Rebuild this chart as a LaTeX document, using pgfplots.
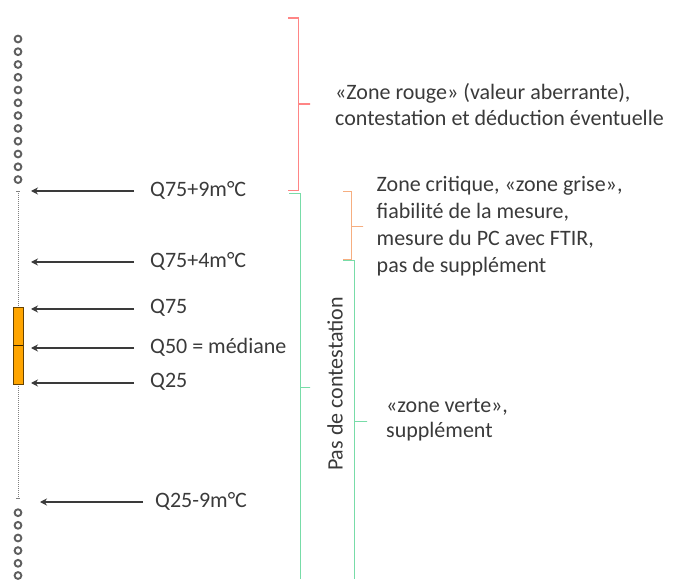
\documentclass[border=0pt]{standalone}
\usepackage{pgfplots}
\pgfplotsset{compat=1.18}
\usepackage{fontspec}
\setmainfont{Carlito}
\usetikzlibrary{arrows.meta}
\definecolor{txt}{HTML}{3A3A3A}
\definecolor{redb}{HTML}{FF8585}
\definecolor{orab}{HTML}{F6AE80}
\definecolor{greb}{HTML}{78DCA8}
\definecolor{boxo}{HTML}{FFA500}
\definecolor{circ}{HTML}{5E5E5E}
\tikzset{lab/.style={font=\fontsize{22}{26}\selectfont, text=txt, inner sep=0pt}}
\begin{document}
\begin{tikzpicture}
\begin{axis}[x=1pt, y=1pt, y dir=reverse, xmin=0, xmax=675, ymin=0, ymax=579,
  hide axis, clip=false, scale only axis]
\addplot[draw=none, forget plot] coordinates {(0,0) (675,579)};
% outliers
\addplot[only marks, mark=o, mark size=3.4pt, mark options={draw=circ, line width=1.9pt}] coordinates {
(18,39) (18,51.7) (18,64.5) (18,77.3) (18,90) (18,102.8) (18,115.6) (18,128.4) (18,141.2) (18,154) (18,166.8) (18,179.6)
(18,512.7) (18,525.3) (18,538) (18,550.6) (18,563.3) (18,575.5)};
% whiskers
\addplot[gray, densely dotted, line width=1pt] coordinates {(18,191) (18,308)};
\addplot[gray, densely dotted, line width=1pt] coordinates {(18,384) (18,498)};
\addplot[gray, line width=0.8pt] coordinates {(16,191) (20,191)};
\addplot[gray, line width=0.8pt] coordinates {(16,498) (20,498)};
% box
\addplot[fill=boxo, draw=black!60!boxo, line width=0.9pt] coordinates {(13.3,307.7) (23.3,307.7) (23.3,384.3) (13.3,384.3) (13.3,307.7)};
\addplot[black!80!boxo, line width=1.5pt] coordinates {(13.3,345.7) (23.3,345.7)};
% arrows
\addplot[txt, line width=1.6pt, -{Stealth[length=7pt,width=7pt]}] coordinates {(134,191) (31,191)};
\addplot[txt, line width=1.6pt, -{Stealth[length=7pt,width=7pt]}] coordinates {(134,262) (31,262)};
\addplot[txt, line width=1.6pt, -{Stealth[length=7pt,width=7pt]}] coordinates {(134,309) (31,309)};
\addplot[txt, line width=1.6pt, -{Stealth[length=7pt,width=7pt]}] coordinates {(134,348) (31,348)};
\addplot[txt, line width=1.6pt, -{Stealth[length=7pt,width=7pt]}] coordinates {(134,383) (31,383)};
\addplot[txt, line width=1.6pt, -{Stealth[length=7pt,width=7pt]}] coordinates {(143,502) (40,502)};
% braces
\addplot[redb, line width=1.5pt] coordinates {(288,18) (298.3,18) (298.3,104) (310,104) (298.3,104) (298.3,190.7) (288,190.7)};
\addplot[greb, line width=1.5pt] coordinates {(289,193.3) (300.7,193.3) (300.7,387.3) (310,387.3) (300.7,387.3) (300.7,579)};
\addplot[orab, line width=1.5pt] coordinates {(343,191.7) (351.7,191.7) (351.7,226.7) (363,226.7) (351.7,226.7) (351.7,260) (343,260)};
\addplot[greb, line width=1.5pt] coordinates {(343,260.5) (354.5,260.5) (354.5,421.7) (367,421.7) (354.5,421.7) (354.5,579)};
% labels
\node[lab, anchor=west] at (axis cs:150,190) {Q75+9m°C};
\node[lab, anchor=west] at (axis cs:150,261) {Q75+4m°C};
\node[lab, anchor=west] at (axis cs:150,308) {Q75};
\node[lab, anchor=west] at (axis cs:150,347) {Q50 = médiane};
\node[lab, anchor=west] at (axis cs:150,382) {Q25};
\node[lab, anchor=west] at (axis cs:155,501) {Q25-9m°C};
\node[lab, anchor=west, align=left] at (axis cs:335,105) {«Zone rouge» (valeur aberrante),\\contestation et déduction éventuelle};
\node[lab, anchor=west, align=left, font=\fontsize{22}{27}\selectfont] at (axis cs:376.5,226) {Zone critique, «zone grise»,\\fiabilité de la mesure,\\mesure du PC avec FTIR,\\pas de supplément};
\node[lab, anchor=west, align=left, font=\fontsize{22}{24.5}\selectfont] at (axis cs:386,420) {«zone verte»,\\supplément};
\node[lab, rotate=90] at (axis cs:335,384) {Pas de contestation};
\end{axis}
\end{tikzpicture}
\end{document}
